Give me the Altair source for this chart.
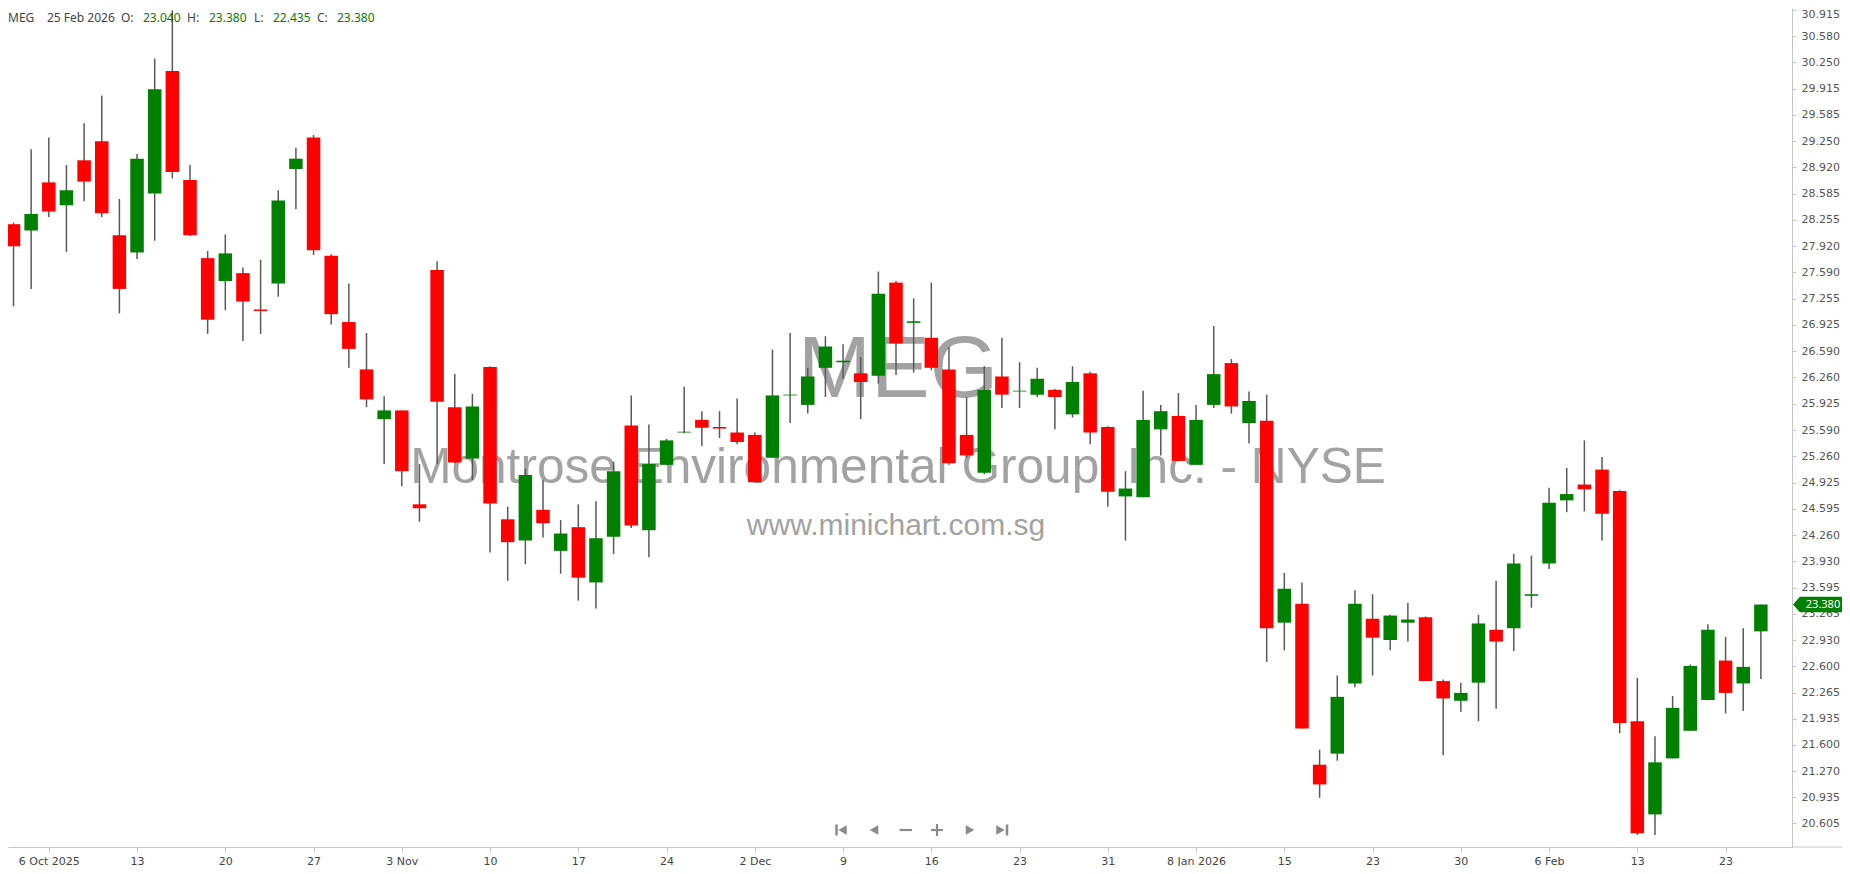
import altair as alt
import pandas as pd

symbol = "MEG"
company = "Montrose Environmental Group, Inc. - NYSE"
site = "www.minichart.com.sg"

dates = [
    "2025-10-02", "2025-10-03", "2025-10-06", "2025-10-07", "2025-10-08", "2025-10-09", "2025-10-10",
    "2025-10-13", "2025-10-14", "2025-10-15", "2025-10-16", "2025-10-17", "2025-10-20", "2025-10-21",
    "2025-10-22", "2025-10-23", "2025-10-24", "2025-10-27", "2025-10-28", "2025-10-29", "2025-10-30",
    "2025-10-31",
    "2025-11-03", "2025-11-04", "2025-11-05", "2025-11-06", "2025-11-07", "2025-11-10", "2025-11-11",
    "2025-11-12", "2025-11-13", "2025-11-14", "2025-11-17", "2025-11-18", "2025-11-19", "2025-11-20",
    "2025-11-21", "2025-11-24", "2025-11-25", "2025-11-26", "2025-11-28",
    "2025-12-01", "2025-12-02", "2025-12-03", "2025-12-04", "2025-12-05", "2025-12-08", "2025-12-09",
    "2025-12-10", "2025-12-11", "2025-12-12", "2025-12-15", "2025-12-16", "2025-12-17", "2025-12-18",
    "2025-12-19", "2025-12-22", "2025-12-23", "2025-12-24", "2025-12-26", "2025-12-29", "2025-12-30",
    "2025-12-31",
    "2026-01-02", "2026-01-05", "2026-01-06", "2026-01-07", "2026-01-08", "2026-01-09", "2026-01-12",
    "2026-01-13", "2026-01-14", "2026-01-15", "2026-01-16", "2026-01-20", "2026-01-21", "2026-01-22",
    "2026-01-23", "2026-01-26", "2026-01-27", "2026-01-28", "2026-01-29", "2026-01-30",
    "2026-02-02", "2026-02-03", "2026-02-04", "2026-02-05", "2026-02-06", "2026-02-09", "2026-02-10",
    "2026-02-11", "2026-02-12", "2026-02-13", "2026-02-17", "2026-02-18", "2026-02-19", "2026-02-20",
    "2026-02-23", "2026-02-24", "2026-02-25",
]

opens = [
    28.20, 28.12, 28.73, 28.44, 29.01, 29.25, 28.06, 27.84, 28.59, 30.14, 28.76, 27.77, 27.48, 27.58,
    27.12, 27.45, 28.90, 29.30, 27.80, 26.96, 26.36, 25.73,
    25.84, 24.65, 27.62, 25.88, 25.23, 26.39, 24.46, 24.19, 24.58, 24.06, 24.36, 23.66, 24.24, 25.65,
    24.32, 25.15, 25.56, 25.72, 25.63,
    25.56, 25.53, 25.24, 26.03, 25.91, 26.38, 26.45, 26.31, 26.28, 27.46, 26.95, 26.76, 26.36, 25.53,
    25.05, 26.27, 26.08, 26.04, 26.10, 25.79, 26.31, 25.63,
    24.75, 24.74, 25.60, 25.77, 25.15, 25.91, 26.44, 25.68, 25.71, 23.15, 23.39, 21.35, 21.49, 22.38,
    23.20, 22.93, 23.15, 23.22, 22.41, 22.16,
    22.39, 23.06, 23.08, 23.49, 23.90, 24.70, 24.90, 25.09, 24.82, 21.90, 20.72, 21.43, 21.78, 22.17,
    22.67, 22.38, 23.04,
]
highs = [
    28.22, 29.15, 29.30, 28.95, 29.48, 29.83, 28.52, 29.09, 30.30, 30.91, 28.95, 27.86, 28.07, 27.65,
    27.75, 28.63, 29.17, 29.33, 27.82, 27.45, 26.82, 26.02,
    25.84, 25.16, 27.73, 26.30, 26.05, 26.40, 24.62, 25.10, 24.96, 24.45, 24.65, 24.69, 25.19, 26.03,
    25.66, 25.48, 26.14, 25.83, 25.83,
    25.99, 25.56, 26.61, 26.82, 26.38, 26.78, 26.68, 26.52, 27.60, 27.48, 27.26, 27.46, 26.64, 26.01,
    26.40, 26.76, 26.45, 26.38, 26.11, 26.40, 26.33, 25.64,
    25.07, 26.09, 25.91, 26.06, 25.91, 26.91, 26.49, 26.08, 26.04, 23.78, 23.66, 21.54, 22.48, 23.56,
    23.51, 23.25, 23.40, 23.23, 22.43, 22.39,
    23.25, 23.68, 24.02, 24.00, 24.86, 25.11, 25.46, 25.25, 24.83, 22.45, 21.71, 22.22, 22.62, 23.13,
    22.97, 23.08, 23.38,
]
lows = [
    27.16, 27.38, 28.29, 27.85, 28.49, 28.29, 27.07, 27.76, 27.99, 28.78, 28.05, 26.81, 27.11, 26.72,
    26.81, 27.28, 28.39, 27.81, 26.93, 26.38, 25.88, 25.16,
    24.88, 24.43, 25.16, 25.17, 24.96, 24.04, 23.68, 23.89, 24.23, 23.77, 23.43, 23.33, 24.02, 24.35,
    23.98, 25.15, 25.55, 25.39, 25.49,
    25.41, 24.93, 25.24, 25.68, 25.80, 26.01, 26.24, 25.73, 26.18, 26.29, 26.32, 26.35, 25.15, 25.24,
    25.03, 25.87, 25.87, 26.01, 25.60, 25.75, 25.41, 24.62,
    24.19, 24.74, 25.27, 25.20, 25.15, 25.87, 25.80, 25.42, 22.65, 22.80, 21.81, 20.93, 21.40, 22.33,
    22.48, 22.80, 22.91, 22.41, 21.47, 22.02,
    21.90, 22.06, 22.79, 23.34, 23.83, 24.55, 24.56, 24.19, 21.75, 20.46, 20.46, 21.43, 21.78, 22.17,
    22.00, 22.03, 22.435,
]
closes = [
    27.92, 28.33, 28.36, 28.63, 28.74, 28.34, 27.38, 29.03, 29.91, 28.86, 28.06, 26.99, 27.83, 27.22,
    27.10, 28.50, 29.03, 27.87, 27.06, 26.62, 25.98, 25.84,
    25.07, 24.60, 25.95, 25.18, 25.89, 24.66, 24.17, 25.02, 24.41, 24.28, 23.72, 24.22, 25.07, 24.38,
    25.16, 25.46, 25.57, 25.62, 25.61,
    25.44, 24.93, 26.03, 26.04, 26.27, 26.65, 26.47, 26.20, 27.32, 26.69, 26.97, 26.38, 25.17, 25.27,
    26.10, 26.04, 26.09, 26.24, 26.01, 26.20, 25.56, 24.81,
    24.85, 25.72, 25.83, 25.20, 25.72, 26.30, 25.89, 25.96, 23.08, 23.58, 21.81, 21.10, 22.21, 23.39,
    22.96, 23.24, 23.19, 22.41, 22.19, 22.26,
    23.14, 22.91, 23.90, 23.51, 24.67, 24.78, 24.84, 24.53, 21.88, 20.48, 21.38, 22.07, 22.60, 23.06,
    22.26, 22.59, 23.38,
]

x_tick_labels = ["6 Oct 2025", "13", "20", "27", "3 Nov", "10", "17", "24", "2 Dec", "9",
                 "16", "23", "31", "8 Jan 2026", "15", "23", "30", "6 Feb", "13", "23"]
y_tick_values = [30.915, 30.580, 30.250, 29.915, 29.585, 29.250, 28.920, 28.585, 28.255, 27.920,
                 27.590, 27.255, 26.925, 26.590, 26.260, 25.925, 25.590, 25.260, 24.925, 24.595,
                 24.260, 23.930, 23.595, 23.265, 22.930, 22.600, 22.265, 21.935, 21.600, 21.270,
                 20.935, 20.605]

# ---- data table (trading-day index; 6 Oct 2025 = 0) ----
first_tick = dates.index("2025-10-06")
df = pd.DataFrame({
    "date": dates,
    "open": opens,
    "high": highs,
    "low": lows,
    "close": closes,
})
df["t"] = [i - first_tick for i in range(len(df))]

W, H = 1784, 839
GREEN = "#008000"
RED = "#ff0000"
AXIS_GRAY = "#c4c4c4"

xscale = alt.Scale(domain=[-2.028, 98.48], nice=False, zero=False)
yscale = alt.Scale(domain=[20.307, 30.940], nice=False, zero=False)

label_arr = "[" + ",".join("'" + s + "'" for s in x_tick_labels) + "]"
xaxis = alt.Axis(
    values=list(range(0, 5 * len(x_tick_labels), 5)),
    labelExpr=label_arr + "[round(datum.value/5)]",
    title=None, grid=False, orient="bottom",
    domainColor=AXIS_GRAY, tickColor=AXIS_GRAY, tickSize=5,
    labelFont="DejaVu Sans", labelFontSize=11, labelColor="#444444",
    labelPadding=3, labelOverlap=False, labelFlush=False, labelBound=False,
)
yaxis = alt.Axis(
    values=y_tick_values, format=".3f", title=None, grid=False, orient="right",
    domainColor=AXIS_GRAY, tickColor=AXIS_GRAY, tickSize=4,
    labelFont="DejaVu Sans", labelFontSize=11, labelColor="#555555",
    labelPadding=5, labelOverlap=False, labelFlush=False, labelBound=False,
    labelOffset={"condition": {"test": "datum.value > 30.9", "value": 5}, "value": 0},
)


def X(field):
    return alt.X(field, type="quantitative", scale=xscale, axis=xaxis)


def Y(field):
    return alt.Y(field, type="quantitative", scale=yscale, axis=yaxis)


one = pd.DataFrame({"k": [0]})
WM = "#a2a2a2"

# ---- watermark (behind candles) ----
wm_sym = alt.Chart(one).mark_text(
    text=symbol, font="Liberation Sans", fontSize=88, color=WM,
    align="center", baseline="alphabetic"
).encode(x=alt.value(890), y=alt.value(389))
wm_name = alt.Chart(one).mark_text(
    text=company, font="Liberation Sans", fontSize=49.6, color=WM,
    align="center", baseline="alphabetic"
).encode(x=alt.value(890), y=alt.value(475))
wm_site = alt.Chart(one).mark_text(
    text=site, font="Liberation Sans", fontSize=30, color=WM,
    align="center", baseline="alphabetic"
).encode(x=alt.value(888), y=alt.value(527))

# ---- candles ----
color_rule = alt.condition("datum.close >= datum.open", alt.value(GREEN), alt.value(RED))
wicks = alt.Chart(df).mark_rule(color="#595959", strokeWidth=1.5).encode(
    x=X("t"), y=Y("low"), y2="high"
)
bodies = alt.Chart(df).mark_bar(width=13.5).encode(
    x=X("t"), y=Y("open"), y2="close", color=color_rule
)

# ---- header (last bar OHLC) ----
last = df.iloc[-1]
last_date = pd.Timestamp(last["date"])
header_date = f"{last_date.day} {last_date.strftime('%b %Y')}"
header_parts = [
    (symbol, 0, "#444444"),
    (header_date, 39, "#444444"),
    ("O:", 113, "#444444"),
    (f"{last['open']:.3f}", 135, GREEN),
    ("H:", 179, "#444444"),
    (f"{last['high']:.3f}", 201, GREEN),
    ("L:", 246, "#444444"),
    (f"{last['low']:.3f}", 265, GREEN),
    ("C:", 309, "#444444"),
    (f"{last['close']:.3f}", 329, GREEN),
]
header_layers = [
    alt.Chart(one).mark_text(
        text=txt, font="Noto Sans", fontSize=12, color=col, align="left", baseline="middle"
    ).encode(x=alt.value(px), y=alt.value(10))
    for txt, px, col in header_parts
]

# ---- last price tag on right axis ----
tag_df = pd.DataFrame({"close": [closes[-1]]})
tag_shape = "M-1,0 L-0.76,-0.27 L1,-0.27 L1,0.27 L-0.76,0.27 Z"
tag = alt.Chart(tag_df).mark_point(
    shape=tag_shape, filled=True, color=GREEN, opacity=1, size=57 * 57
).encode(x=alt.value(1813.5), y=Y("close"))
tag_text = alt.Chart(tag_df).mark_text(
    font="Noto Sans", fontSize=11, color="white", align="center", baseline="middle"
).encode(x=alt.value(1815), y=Y("close"), text=alt.Text("close:Q", format=".3f"))

# extension of bottom axis line under the price scale
axis_ext = alt.Chart(one).mark_rule(color=AXIS_GRAY, strokeWidth=1).encode(
    x=alt.value(W), x2=alt.value(W + 60), y=alt.value(H)
)

# ---- navigation buttons ----
NAV = "#8a8a8a"
ny = 822
nav_tris = alt.Chart(pd.DataFrame({
    "shape": ["triangle-left", "triangle-left", "triangle-right", "triangle-right"],
    "pos": [834.5, 866.0, 962.0, 992.5],
})).mark_point(filled=True, color=NAV, opacity=1, size=95).encode(
    x=alt.X("pos:Q", scale=None), y=alt.value(ny),
    shape=alt.Shape("shape:N", scale=None, legend=None)
)
nav_bar_l = alt.Chart(one).mark_rule(color=NAV, strokeWidth=2.5).encode(
    x=alt.value(828.5), y=alt.value(ny - 5.5), y2=alt.value(ny + 5.5))
nav_bar_r = alt.Chart(one).mark_rule(color=NAV, strokeWidth=2.5).encode(
    x=alt.value(999), y=alt.value(ny - 5.5), y2=alt.value(ny + 5.5))
nav_minus = alt.Chart(one).mark_rule(color=NAV, strokeWidth=2.2).encode(
    x=alt.value(891.5), x2=alt.value(904), y=alt.value(ny))
nav_plus_h = alt.Chart(one).mark_rule(color=NAV, strokeWidth=2.2).encode(
    x=alt.value(923), x2=alt.value(935), y=alt.value(ny))
nav_plus_v = alt.Chart(one).mark_rule(color=NAV, strokeWidth=2.2).encode(
    x=alt.value(929), y=alt.value(ny - 6), y2=alt.value(ny + 6))

chart = alt.layer(
    wm_sym, wm_name, wm_site,
    wicks, bodies,
    *header_layers,
    axis_ext, tag, tag_text,
    nav_tris, nav_bar_l, nav_bar_r, nav_minus, nav_plus_h, nav_plus_v,
).properties(
    width=W, height=H,
    autosize=alt.AutoSizeParams(type="none"),
    padding={"left": 0, "top": 0, "right": 50, "bottom": 19},
    background="white",
).configure_view(stroke=None)

chart.save("out.html", embed_options={"renderer": "svg", "actions": False})
